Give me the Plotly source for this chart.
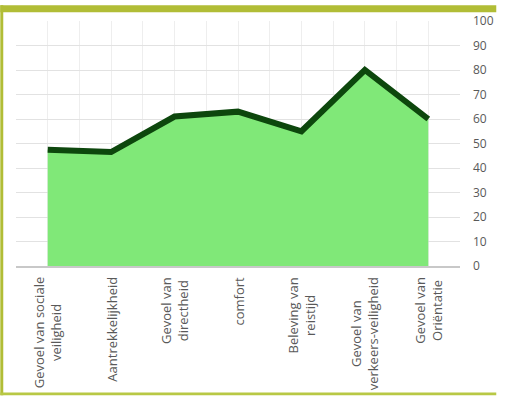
import plotly.graph_objects as go

categories = [
    "Gevoel van sociale<br>veiligheid",
    "Aantrekkelijkheid",
    "Gevoel van<br>directheid",
    "comfort",
    "Beleving van<br>reistijd",
    "Gevoel van<br>verkeers-veiligheid",
    "Gevoel van<br>Oriëntatie",
]
values = [47.5, 46.5, 61, 63, 55, 80, 60]
y_ticks = list(range(0, 101, 10))

W, H = 506, 398
L, R, T, B = 16, 37, 16, 132
pw, ph = W - L - R, H - T - B

def px_x(p):
    return (p - L) / pw

def px_y(p):
    return (H - B - p) / ph

xs = list(range(len(categories)))

fig = go.Figure()
fig.add_trace(go.Scatter(
    x=xs, y=values, mode="lines", fill="tozeroy",
    fillcolor="#80e878",
    line=dict(color="#0d470d", width=6),
    hoverinfo="skip", showlegend=False,
))

annotations = []
for i, c in enumerate(categories):
    annotations.append(dict(
        x=i, xref="x", y=0, yref="paper", yanchor="top", xanchor="center",
        yshift=-9, text=c, showarrow=False, textangle=-90, align="center",
        font=dict(family="Open Sans", size=13, color="#595959"),
    ))

border = "#b1bd36"
shapes = [
    dict(type="rect", xref="paper", yref="paper", x0=px_x(0), x1=px_x(W), y0=px_y(7), y1=px_y(0),
         fillcolor=border, line=dict(width=0), layer="above"),
    dict(type="rect", xref="paper", yref="paper", x0=px_x(0), x1=px_x(3), y0=px_y(H), y1=px_y(0),
         fillcolor=border, line=dict(width=0), layer="above"),
    dict(type="rect", xref="paper", yref="paper", x0=px_x(0), x1=px_x(W), y0=px_y(H), y1=px_y(395),
         fillcolor="#b8c845", line=dict(width=0), layer="above"),
]

half_ticks = [i / 2 for i in range(-1, 2 * len(categories))]

fig.update_layout(
    width=W, height=H,
    margin=dict(l=L, r=R, t=T, b=B),
    paper_bgcolor="white", plot_bgcolor="white",
    annotations=annotations, shapes=shapes,
    xaxis=dict(
        range=[-0.5, len(categories) - 0.5], tickvals=half_ticks,
        showticklabels=False, showgrid=True, gridcolor="#eeeeee", gridwidth=1,
        zeroline=False, showline=True, linecolor="#c8c8c8", linewidth=2, ticks="",
        fixedrange=True,
    ),
    yaxis=dict(
        range=[0, 100], tickvals=y_ticks, side="right", showgrid=True,
        gridcolor="#e2e2e2", gridwidth=1, zeroline=False, ticks="",
        ticklabelstandoff=12,
        tickfont=dict(family="Open Sans", size=12, color="#595959"),
        fixedrange=True,
    ),
)

fig.write_html(
    "out.html",
    config={"displayModeBar": False},
    post_script="document.body.style.margin='0px';document.body.style.padding='0px';",
)
